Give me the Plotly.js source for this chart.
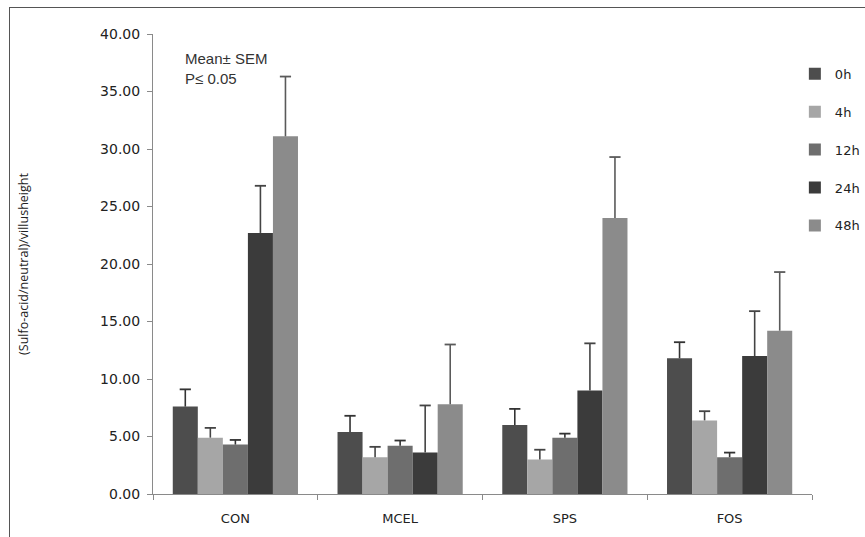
<!DOCTYPE html>
<html>
<head>
<meta charset="utf-8">
<script src="https://cdn.plot.ly/plotly-3.0.1.min.js"></script>
<style>
html,body{margin:0;padding:0;background:#fff;}
#wrap{position:relative;width:865px;height:537px;overflow:hidden;}
#frame{position:absolute;left:9px;top:7px;width:900px;height:600px;border-left:1.5px solid #555;border-top:1.5px solid #555;pointer-events:none;z-index:5;}
#chart{position:absolute;left:0;top:0;width:865px;height:537px;}
</style>
</head>
<body>
<div id="wrap"><div id="chart"></div><div id="frame"></div></div>
<script>
const categories = ["CON", "MCEL", "SPS", "FOS"];
const seriesNames = ["0h", "4h", "12h", "24h", "48h"];
const h0  = [7.6, 5.4, 6.0, 11.8];
const h4  = [4.9, 3.2, 3.0, 6.4];
const h12 = [4.3, 4.2, 4.9, 3.2];
const h24 = [22.7, 3.6, 9.0, 12.0];
const h48 = [31.1, 7.8, 24.0, 14.2];
const sem0  = [1.5, 1.4, 1.4, 1.4];
const sem4  = [0.85, 0.9, 0.85, 0.8];
const sem12 = [0.4, 0.45, 0.35, 0.4];
const sem24 = [4.1, 4.1, 4.1, 3.9];
const sem48 = [5.2, 5.2, 5.3, 5.1];
const yTicks = [0, 5, 10, 15, 20, 25, 30, 35, 40];

const values = [h0, h4, h12, h24, h48];
const sems = [sem0, sem4, sem12, sem24, sem48];
const colors = ["#4d4d4d", "#a6a6a6", "#6e6e6e", "#3b3b3b", "#8b8b8b"];
const errColors = ["#333333", "#444444", "#333333", "#444444", "#5a5a5a"];

const barTraces = seriesNames.map((n, i) => ({
  type: "bar",
  name: n,
  x: categories,
  y: values[i],
  legendgroup: n,
  offsetgroup: "g" + i,
  marker: {color: colors[i], line: {width: 0}},
  error_y: {type: "data", symmetric: false, array: sems[i], arrayminus: sems[i].map(() => 0),
            color: errColors[i], thickness: 1.6, width: 0}
}));
const capTraces = seriesNames.map((n, i) => ({
  type: "scatter",
  mode: "markers",
  name: n + " cap",
  x: categories,
  y: values[i].map((v, j) => v + sems[i][j]),
  legendgroup: n,
  offsetgroup: "g" + i,
  showlegend: false,
  marker: {symbol: "line-ew", size: 8, color: errColors[i], line: {width: 1.8, color: errColors[i]}}
}));

const layout = {
  width: 865, height: 537,
  margin: {l: 153, r: 53, t: 34, b: 43, autoexpand: false},
  paper_bgcolor: "#fff", plot_bgcolor: "#fff",
  barmode: "group", bargap: 0.24, bargroupgap: 0,
  scattermode: "group", scattergap: 0.24,
  showlegend: true,
  font: {family: "Liberation Sans, Arial, sans-serif", color: "#333"},
  legend: {x: 0.974, xanchor: "left", y: 0.946, yanchor: "top",
           traceorder: "grouped", tracegroupgap: 18,
           font: {family: "DejaVu Sans, sans-serif", size: 13, color: "#222"},
           itemwidth: 30, bgcolor: "rgba(0,0,0,0)"},
  xaxis: {
    type: "category",
    showline: true, linecolor: "#8a8a8a", linewidth: 1,
    ticks: "outside", tickson: "boundaries", ticklen: 5, tickcolor: "#8a8a8a",
    showgrid: false, zeroline: false, ticklabelstandoff: 12,
    tickfont: {family: "DejaVu Sans, sans-serif", size: 13, color: "#222"}
  },
  yaxis: {
    range: [0, 40], tickvals: yTicks, tickformat: ".2f",
    showline: true, linecolor: "#8a8a8a", linewidth: 1,
    ticks: "outside", ticklen: 5, tickcolor: "#8a8a8a",
    showgrid: false, zeroline: false, ticklabelstandoff: 4,
    tickfont: {family: "DejaVu Sans, sans-serif", size: 14, color: "#222"},
    title: {text: "(Sulfo-acid/neutral)/villusheight", standoff: 68,
            font: {family: "Open Sans, DejaVu Sans, sans-serif", size: 12.5, color: "#222"}}
  },
  annotations: [{
    xref: "paper", yref: "paper", x: 0.045, y: 0.97, xanchor: "left", yanchor: "top",
    text: "Mean± SEM<br>P≤ 0.05", showarrow: false, align: "left",
    font: {family: "Liberation Sans, Arial, sans-serif", size: 15, color: "#333"}
  }]
};

Plotly.newPlot("chart", barTraces.concat(capTraces), layout, {displayModeBar: false, staticPlot: true});
</script>
</body>
</html>
